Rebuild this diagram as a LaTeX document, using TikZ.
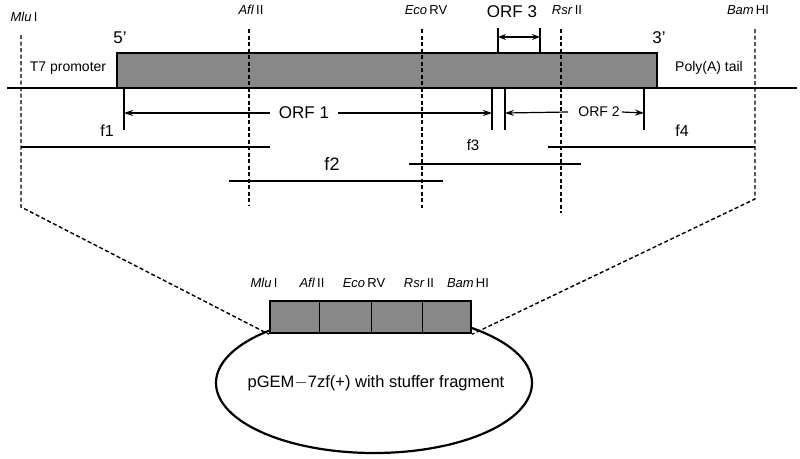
\documentclass[tikz,border=0pt]{standalone}
\usepackage{fontspec}
\setmainfont{Liberation Sans}
\usetikzlibrary{arrows.meta,shapes.geometric}
\definecolor{boxgray}{RGB}{136,136,136}
\newcommand{\fs}[1]{\fontsize{#1}{#1}\selectfont}
\begin{document}
\begin{tikzpicture}[x=1pt,y=-1pt,
  site/.style={dash pattern=on 4pt off 2.5pt, line width=1.4pt},
  frag/.style={line width=1.3pt},
  tickline/.style={line width=1.2pt},
  orfarrow/.style={line width=1.2pt,-{Stealth[length=9pt,width=6pt]}},
  enzlbl/.style={inner sep=0pt, font=\fs{13}},
  txt/.style={inner sep=0pt},
]
\useasboundingbox (0,0) rectangle (800,458);

% coordinates
\coordinate (mluT) at (21,35);  \coordinate (mluB) at (21,207);
\coordinate (aflT) at (249,29); \coordinate (aflB) at (249,206);
\coordinate (ecoT) at (422,29); \coordinate (ecoB) at (422,208);
\coordinate (rsrT) at (561,29); \coordinate (rsrB) at (561,213);
\coordinate (bamT) at (755,29); \coordinate (bamB) at (755,199);

% gray RNA box
\fill[boxgray] (117,53) rectangle (657,88);
\draw[line width=2.6pt] (117,88) -- (117,53) -- (657,53) -- (657,88);
% main line
\coordinate (mainL) at (7,88); \coordinate (mainR) at (797,88);
\draw[line width=2.6pt] (mainL) -- (mainR);

% lower box and ellipse
\draw[line width=2.2pt, fill=white] (374,383) ellipse [x radius=158, y radius=70];
\node[draw, fill=boxgray, line width=2.4pt, minimum width=201pt, minimum height=32pt, inner sep=0pt] (cass) at (370.5,317) {};
\foreach \x in {319,371,422} \draw[line width=1pt] (\x,302) -- (\x,332);
\node[txt, font=\fs{16.5}] (pgem) at (376,383) {pGEM$-$7zf(+) with stuffer fragment};

% dashed site lines
\draw[site] (mluT) -- (mluB) -- (cass.south west);
\draw[site] (aflT) -- (aflB);
\draw[site] (ecoT) -- (ecoB);
\draw[site] (rsrT) -- (rsrB);
\draw[site] (bamT) -- (bamB) -- (cass.south east);

% top enzyme labels
\node[enzlbl] (lmlu) at (24,17) {\textit{Mlu}\,I};
\node[enzlbl] (lafl) at (251,10) {\textit{Afl}\,II};
\node[enzlbl] (leco) at (426,10) {\textit{Eco}\,RV};
\node[enzlbl] (lrsr) at (567,10) {\textit{Rsr}\,II};
\node[enzlbl] (lbam) at (748,10) {\textit{Bam}\,HI};

% 5' 3'
\node[txt, font=\fs{17}] (five) at (120,38) {5'};
\node[txt, font=\fs{17}] (three) at (659,38) {3'};
\node[txt, font=\fs{14}] (t7) at (68,68) {T7 promoter};
\node[txt, font=\fs{14}] (polya) at (709,68) {Poly(A) tail};

% ORF 3
\coordinate (o3a) at (498,28); \coordinate (o3b) at (540,28);
\draw[tickline] (o3a) -- (498,53);
\draw[tickline] (o3b) -- (540,53);
\draw[line width=1.2pt,{Stealth[length=8pt,width=6pt]}-{Stealth[length=8pt,width=6pt]}] (498,37) -- (540,37);
\node[txt, font=\fs{17}] (orf3) at (512,12) {ORF 3};

% ORF 1
\coordinate (o1l) at (124,88); \coordinate (o1r) at (492,88);
\draw[tickline] (o1l) -- (124,130);
\draw[tickline] (o1r) -- (492,130);
\node[txt, font=\fs{17}] (orf1) at (304,113) {ORF 1};
\draw[orfarrow] ([xshift=-9pt]orf1.west) -- (124,113);
\draw[orfarrow] ([xshift=9pt]orf1.east) -- (492,113);

% ORF 2
\coordinate (o2l) at (505,88); \coordinate (o2r) at (644,88);
\draw[tickline] (o2l) -- (505,130);
\draw[tickline] (o2r) -- (644,130);
\node[txt, font=\fs{14}] (orf2) at (599,112) {ORF 2};
\draw[orfarrow] ([xshift=-10pt]orf2.west) -- (505,113);
\draw[orfarrow] ([xshift=2pt]orf2.east) -- (644,113);

% fragments
\draw[frag] (21,147) coordinate (f1a) -- (270,147) coordinate (f1b);
\draw[frag] (229,181) coordinate (f2a) -- (443,181) coordinate (f2b);
\draw[frag] (409,164) coordinate (f3a) -- (581,164) coordinate (f3b);
\draw[frag] (548,147) coordinate (f4a) -- (755,147) coordinate (f4b);
\node[txt, font=\fs{16}] (lf1) at (107,131) {f1};
\node[txt, font=\fs{18}] (lf2) at (332,164) {f2};
\node[txt, font=\fs{15}] (lf3) at (473,145) {f3};
\node[txt, font=\fs{16}] (lf4) at (682,131) {f4};

% lower enzyme labels
\node[enzlbl] (bmlu) at (264,283) {\textit{Mlu}\,I};
\node[enzlbl] (bafl) at (312,283) {\textit{Afl}\,II};
\node[enzlbl] (beco) at (364,283) {\textit{Eco}\,RV};
\node[enzlbl] (brsr) at (419,283) {\textit{Rsr}\,II};
\node[enzlbl] (bbam) at (468,283) {\textit{Bam}\,HI};
\end{tikzpicture}
\end{document}
